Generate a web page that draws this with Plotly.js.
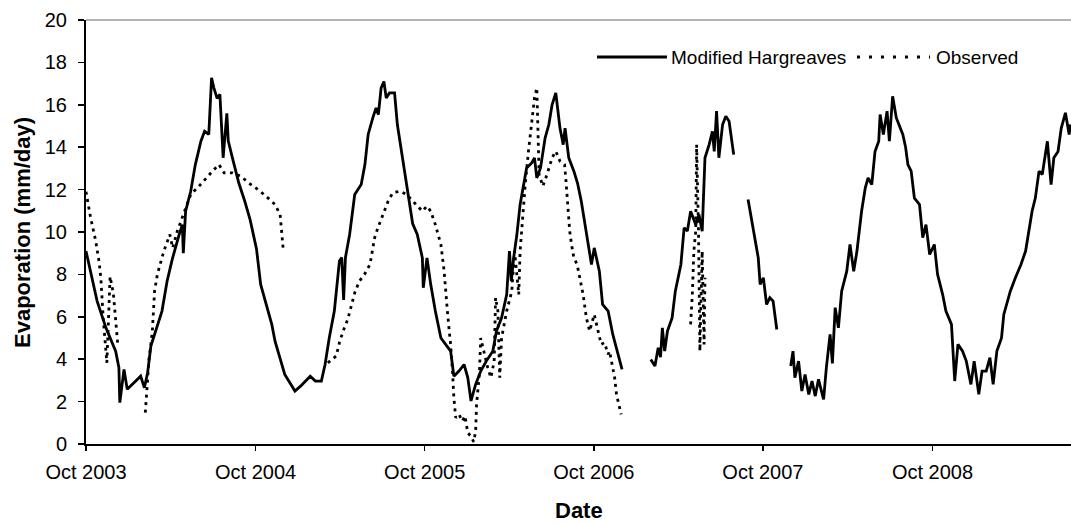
<!DOCTYPE html>
<html>
<head>
<meta charset="utf-8">
<script src="https://cdn.plot.ly/plotly-3.0.1.min.js"></script>
<style>html,body{margin:0;padding:0;background:#fff;}#chart{width:1071px;height:524px;}</style>
</head>
<body>
<div id="chart"></div>
<script>
// Modified Hargreaves series (null = gap in record)
const hargreavesDates = [
"2003-10-01","2003-10-25","2003-11-13","2003-12-04","2003-12-11","2003-12-13","2003-12-22","2003-12-29",
"2004-01-13","2004-01-27","2004-02-04","2004-02-11","2004-02-18","2004-02-28","2004-03-13","2004-03-24",
"2004-04-04","2004-04-19","2004-04-26","2004-04-28","2004-05-03","2004-05-14","2004-05-24","2004-06-05",
"2004-06-13","2004-06-22","2004-06-28","2004-07-03","2004-07-10","2004-07-16","2004-07-23","2004-07-31",
"2004-08-03","2004-08-12","2004-08-26","2004-09-07","2004-09-19","2004-09-26","2004-10-03","2004-10-12",
"2004-10-24","2004-11-05","2004-11-12","2004-11-23","2004-12-03","2004-12-14","2004-12-25","2005-01-06",
"2005-01-16","2005-01-27","2005-02-07","2005-02-20","2005-02-28","2005-03-09","2005-03-20","2005-03-31",
"2005-04-05","2005-04-09","2005-04-13","2005-04-22","2005-05-03","2005-05-17","2005-05-25","2005-06-01",
"2005-06-11","2005-06-18","2005-06-23","2005-06-29","2005-07-05","2005-07-10","2005-07-17","2005-07-28",
"2005-08-03","2005-08-12","2005-08-23","2005-09-05","2005-09-15","2005-09-26","2005-09-28","2005-10-06",
"2005-10-14","2005-10-24","2005-11-05","2005-11-15","2005-11-26","2005-12-03","2005-12-14","2005-12-25",
"2006-01-02","2006-01-09","2006-01-19","2006-01-30","2006-02-11","2006-02-25","2006-03-05","2006-03-16",
"2006-03-27","2006-04-02","2006-04-06","2006-04-11","2006-04-18","2006-04-25","2006-05-02","2006-05-09",
"2006-05-20","2006-05-26","2006-05-31","2006-06-08","2006-06-18","2006-06-26","2006-07-03","2006-07-11",
"2006-07-20","2006-07-27","2006-07-31","2006-08-08","2006-08-19","2006-08-27","2006-09-04","2006-09-15",
"2006-09-26","2006-10-02","2006-10-13","2006-10-20","2006-11-01","2006-11-11","2006-11-22","2006-12-01",
"2007-01-01",
"2007-02-01","2007-02-10","2007-02-17","2007-02-22","2007-02-26","2007-03-03","2007-03-09","2007-03-19",
"2007-03-26","2007-04-07","2007-04-14","2007-04-21","2007-04-28","2007-05-09","2007-05-16","2007-05-23",
"2007-05-29","2007-06-07","2007-06-14","2007-06-18","2007-06-23","2007-06-28","2007-07-06","2007-07-13",
"2007-07-20","2007-07-30",
"2007-08-15",
"2007-08-30","2007-09-11","2007-09-21","2007-09-25","2007-10-02","2007-10-09","2007-10-16","2007-10-23",
"2007-10-31",
"2007-11-15",
"2007-11-30","2007-12-05","2007-12-09","2007-12-17","2007-12-24","2007-12-31","2008-01-08","2008-01-15",
"2008-01-22","2008-01-29","2008-02-09","2008-02-15","2008-02-23","2008-02-28","2008-03-05","2008-03-12",
"2008-03-19","2008-03-30","2008-04-06","2008-04-14","2008-04-21","2008-05-01","2008-05-09","2008-05-15",
"2008-05-23","2008-05-30","2008-06-07","2008-06-10","2008-06-17","2008-06-25","2008-06-30","2008-07-07",
"2008-07-15","2008-07-21","2008-07-29","2008-08-04","2008-08-09","2008-08-16","2008-08-23","2008-09-03",
"2008-09-10","2008-09-17","2008-09-25","2008-10-05","2008-10-12","2008-10-23","2008-10-30","2008-11-11",
"2008-11-18","2008-11-25","2008-12-05","2008-12-13","2008-12-23","2008-12-30","2009-01-09","2009-01-16",
"2009-01-25","2009-02-02","2009-02-09","2009-02-17","2009-02-27","2009-03-04","2009-03-18","2009-03-29",
"2009-04-10","2009-04-20","2009-04-27","2009-05-04","2009-05-11","2009-05-19","2009-05-26","2009-06-06",
"2009-06-14","2009-06-20","2009-06-29","2009-07-06","2009-07-15","2009-07-23","2009-07-26"
];
const hargreavesValues = [
9.1,6.74,5.48,4.38,3.6,1.95,3.52,2.58,
2.9,3.2,2.65,3.36,4.62,5.33,6.27,7.68,
8.7,9.88,10.35,9.0,10.98,11.92,13.18,14.28,
14.75,14.6,17.27,16.8,16.3,16.5,13.5,15.6,
14.3,13.5,12.3,11.5,10.6,9.9,9.2,7.53,
6.58,5.64,4.85,4.07,3.28,2.89,2.5,2.73,
2.97,3.2,2.97,2.97,3.75,5.0,6.27,8.63,
8.8,6.8,8.8,9.88,11.77,12.24,13.18,14.6,
15.38,15.85,15.54,16.8,17.1,16.32,16.56,16.56,
15.07,13.8,12.24,10.4,9.88,8.78,7.37,8.78,
7.53,6.27,5.0,4.7,4.38,3.2,3.44,3.75,
3.13,2.03,2.81,3.44,3.91,4.38,5.33,5.95,
7.05,9.1,7.68,8.78,9.88,11.3,12.24,13.02,
13.26,13.5,12.55,13.02,14.44,15.07,16.0,16.56,
14.9,14.12,14.9,13.5,12.87,12.3,11.45,10.04,
8.47,9.25,8.15,6.58,6.27,5.17,4.23,3.52,
null,
3.99,3.68,4.54,4.1,5.48,4.38,5.33,5.95,
7.21,8.47,10.2,10.04,10.98,10.35,10.82,10.04,
13.5,14.12,14.75,13.8,15.7,13.5,15.07,15.46,
15.22,13.65,
null,
11.53,10.04,8.78,7.53,7.84,6.58,6.9,6.74,
5.4,
null,
3.68,4.38,3.13,3.91,2.5,3.28,2.34,2.97,
2.26,3.05,2.1,3.6,5.17,3.8,6.43,5.48,
7.21,8.15,9.41,8.15,9.1,10.98,12.08,12.55,
12.24,13.8,14.28,15.54,14.6,15.7,14.28,16.4,
15.38,15.07,14.6,14.0,13.18,12.87,11.6,11.3,
9.73,10.35,8.94,9.41,8.0,7.05,6.27,5.64,
2.97,4.7,4.38,3.91,2.81,3.91,2.34,3.44,
3.44,4.07,2.81,4.38,5.0,6.11,7.21,7.84,
8.47,9.1,10.04,10.98,11.6,12.87,12.71,14.28,
12.24,13.5,13.8,14.9,15.62,14.6,15.07
];

// Observed series (null = gap in record)
const observedDates = [
"2003-10-01","2003-10-11","2003-10-22","2003-10-29","2003-11-02","2003-11-07","2003-11-15","2003-11-19",
"2003-11-22","2003-11-29","2003-12-03","2003-12-06","2003-12-09",
"2004-01-10",
"2004-02-06","2004-02-08","2004-02-14","2004-02-21","2004-02-26","2004-03-03","2004-03-17","2004-03-30",
"2004-04-05","2004-04-15","2004-04-30","2004-05-14","2004-06-01","2004-06-16","2004-06-30","2004-07-14",
"2004-07-25","2004-08-12","2004-08-30","2004-09-16","2004-10-11","2004-10-28","2004-11-12","2004-11-23",
"2004-11-26","2004-11-30",
"2005-01-15",
"2005-03-06","2005-03-24","2005-03-31","2005-04-08","2005-04-18","2005-04-26","2005-05-03","2005-05-13",
"2005-05-24","2005-06-05","2005-06-11","2005-06-15","2005-06-22","2005-07-03","2005-07-14","2005-07-24",
"2005-08-09","2005-08-23","2005-09-09","2005-09-26","2005-10-06","2005-10-14","2005-10-24","2005-11-05",
"2005-11-12","2005-11-15","2005-11-19","2005-11-23","2005-11-26","2005-11-30","2005-12-03","2005-12-07",
"2005-12-14","2005-12-21","2005-12-27","2006-01-02","2006-01-08","2006-01-15","2006-01-19","2006-01-21",
"2006-01-23","2006-01-27","2006-01-30","2006-02-07","2006-02-14","2006-02-21","2006-02-28","2006-03-03",
"2006-03-08","2006-03-12","2006-03-16","2006-03-27","2006-04-07","2006-04-13","2006-04-22","2006-04-25",
"2006-04-30","2006-05-06","2006-05-13","2006-05-20","2006-05-26","2006-05-31","2006-06-03","2006-06-05",
"2006-06-13","2006-06-22","2006-07-03","2006-07-11","2006-07-20","2006-07-30","2006-08-02","2006-08-06",
"2006-08-10","2006-08-14","2006-08-19","2006-08-26","2006-09-02","2006-09-08","2006-09-15","2006-09-22",
"2006-10-02","2006-10-10","2006-10-17","2006-10-24","2006-11-01","2006-11-04","2006-11-10","2006-11-15",
"2006-11-19","2006-11-24","2006-11-29",
"2007-02-15",
"2007-04-28","2007-05-02","2007-05-05","2007-05-09","2007-05-11","2007-05-15","2007-05-18","2007-05-20",
"2007-05-23","2007-05-27","2007-05-29"
];
const observedValues = [
11.9,10.67,9.57,8.63,7.84,6.0,3.83,6.5,
7.9,7.1,6.0,5.25,4.6,
null,
1.48,2.25,4.0,5.25,7.21,8.0,9.1,9.88,
9.25,10.04,10.98,11.77,12.16,12.55,12.87,13.18,
12.79,12.79,12.63,12.32,11.92,11.6,11.3,10.82,
10.04,9.1,
null,
3.83,4.15,4.78,5.33,5.88,6.58,7.13,7.68,
8.0,8.47,9.18,9.73,10.2,10.82,11.45,11.85,
11.92,11.77,11.37,10.98,11.22,10.98,10.35,9.41,
8.15,7.21,6.27,5.33,4.7,3.44,2.18,1.24,
1.4,1.08,1.32,0.53,0.38,0.1,0.61,1.87,
2.5,3.28,5.0,4.23,3.6,3.13,3.91,6.9,
6.27,3.13,5.0,6.27,7.21,9.1,7.05,9.1,
10.67,12.24,13.81,15.07,16.32,16.8,13.5,12.71,
12.16,12.71,13.5,13.81,13.34,13.18,12.4,10.98,
10.04,9.41,8.78,8.47,7.68,7.05,5.95,5.33,
6.11,5.33,4.7,4.78,4.23,4.38,3.75,3.13,
2.34,1.87,1.4,
null,
5.64,7.21,9.1,10.04,14.12,10.04,4.38,6.74,
9.1,4.7,7.84
];

const tickDates = ["2003-10-01","2004-10-01","2005-10-01","2006-10-01","2007-10-01","2008-10-01"];
const tickLabels = ["Oct 2003","Oct 2004","Oct 2005","Oct 2006","Oct 2007","Oct 2008"];
const seriesNames = ["Modified Hargreaves","Observed"];

const FONT = "Liberation Sans, Arial, Helvetica, sans-serif";

const traces = [
  {x: hargreavesDates, y: hargreavesValues, type: "scatter", mode: "lines", name: seriesNames[0],
   connectgaps: false, line: {color: "#000", width: 2.8}, showlegend: false, hoverinfo: "x+y"},
  {x: observedDates, y: observedValues, type: "scatter", mode: "lines", name: seriesNames[1],
   connectgaps: false, line: {color: "#000", width: 2.8, dash: "3px,4.5px"}, showlegend: false, hoverinfo: "x+y"}
];

const layout = {
  width: 1071, height: 524,
  margin: {l: 86, r: 0, t: 20, b: 80},
  paper_bgcolor: "#fff", plot_bgcolor: "#fff",
  font: {family: FONT, color: "#000", size: 20},
  xaxis: {
    type: "date", range: ["2003-10-01", "2009-07-27"],
    tickmode: "array", tickvals: tickDates, ticktext: tickLabels,
    ticks: "outside", ticklen: 5, tickwidth: 1.5, tickcolor: "#000",
    showline: true, linecolor: "#000", linewidth: 2,
    showgrid: false, zeroline: false,
    tickfont: {family: FONT, size: 20, color: "#000"},
    ticklabelstandoff: 4
  },
  yaxis: {
    range: [0, 20], dtick: 2, tick0: 0,
    ticks: "outside", ticklen: 6, tickwidth: 1.5, tickcolor: "#000",
    showline: true, linecolor: "#000", linewidth: 2,
    showgrid: false, zeroline: false,
    tickfont: {family: FONT, size: 20, color: "#000"},
    ticklabelstandoff: 7
  },
  shapes: [
    {type: "line", xref: "paper", yref: "paper", x0: 0, x1: 1, y0: 1, y1: 1,
     line: {color: "#9a9a9a", width: 1.5}},
    {type: "line", xref: "paper", yref: "paper", x0: 0.5188, x1: 0.5898, y0: 0.9127, y1: 0.9127,
     line: {color: "#000", width: 2.8}},
    {type: "line", xref: "paper", yref: "paper", x0: 0.7827, x1: 0.8569, y0: 0.9127, y1: 0.9127,
     line: {color: "#000", width: 2.8, dash: "3px,9px"}}
  ],
  annotations: [
    {text: seriesNames[0], xref: "paper", yref: "paper", x: 0.5919, y: 0.9127,
     xanchor: "left", yanchor: "middle", showarrow: false, font: {family: FONT, size: 19, color: "#000"}},
    {text: seriesNames[1], xref: "paper", yref: "paper", x: 0.8609, y: 0.9127,
     xanchor: "left", yanchor: "middle", showarrow: false, font: {family: FONT, size: 19, color: "#000"}},
    {text: "<b>Evaporation (mm/day)</b>", xref: "paper", yref: "paper", x: -0.065, y: 0.5,
     xanchor: "center", yanchor: "middle", textangle: -90, showarrow: false,
     font: {family: FONT, size: 22, color: "#000"}},
    {text: "<b>Date</b>", xref: "paper", yref: "paper", x: 0.5, y: -0.156,
     xanchor: "center", yanchor: "middle", showarrow: false,
     font: {family: FONT, size: 22, color: "#000"}}
  ],
  showlegend: false
};

Plotly.newPlot("chart", traces, layout, {displayModeBar: false, staticPlot: true});
</script>
</body>
</html>
